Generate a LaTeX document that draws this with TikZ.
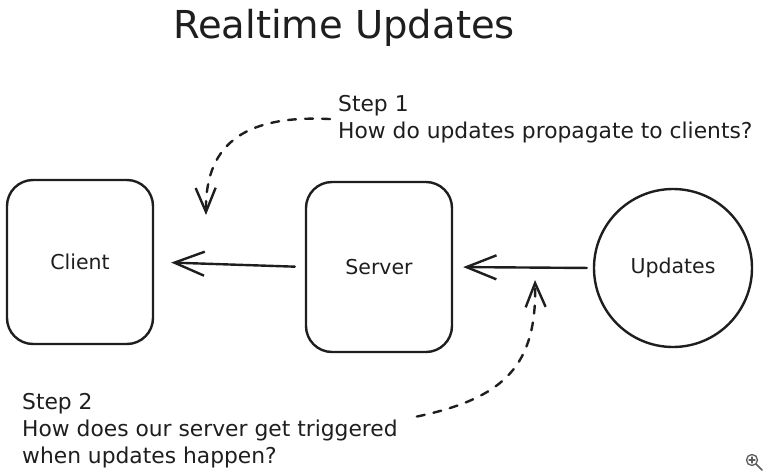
\documentclass[tikz,border=0pt]{standalone}
\usepackage{fontspec}
\setmainfont{DejaVu Sans}
\usetikzlibrary{arrows.meta}
\definecolor{ink}{HTML}{1E1E1E}
\definecolor{uigray}{HTML}{5C5C5C}
\begin{document}
\begin{tikzpicture}[x=1pt, y=-1pt, line cap=round, line join=round,
  stroke/.style={draw=ink, line width=2.4pt},
  box/.style={stroke, rounded corners=26pt, inner sep=0pt},
  label/.style={text=ink, font=\fontsize{20.5}{24}\selectfont},
  note/.style={text=ink, font=\fontsize{21.8}{27}\selectfont, align=left,
    inner sep=0pt, anchor=north west},
  flow/.style={stroke, -{Straight Barb[length=30pt, width=24pt]}},
  hint/.style={stroke, dash pattern=on 8pt off 9pt,
    -{Straight Barb[length=24pt, width=20pt]}}
]
\useasboundingbox (0,0) rectangle (769,474);

% title
\node[text=ink, font=\fontsize{38.5}{44}\selectfont] (title) at (344,28) {Realtime Updates};

% components
\node[box, label, minimum width=146pt, minimum height=164pt] (client) at (80,262) {Client};
\node[box, label, minimum width=146pt, minimum height=170pt] (server) at (379,267) {Server};
\node[stroke, circle, label, minimum size=158pt, inner sep=0pt] (updates) at (673,268) {Updates};

% data flow
\draw[flow, shorten <=10pt, shorten >=17pt] (server.west) -- (client.east);
\draw[flow, shorten <=6pt, shorten >=10pt] (updates.west) -- (server.east);

% annotations
\node[note] (step1) at (338,95) {Step 1\\How do updates propagate to clients?};
\node[note] (step2) at (22,393) {Step 2\\How does our server get triggered\\when updates happen?};

\coordinate (s1tip) at (206,215);
\coordinate (s2tip) at (535,280);
\draw[hint] ([xshift=-8pt]step1.west) .. controls (250,115) and (205,140) .. (s1tip);
\draw[hint] ([shift={(19pt,14pt)}]step2.east) .. controls (505,398) and (537,365) .. (s2tip);

% zoom control
\draw[uigray, line width=1.3pt] (752,460) circle (5.5pt);
\draw[uigray, line width=1.2pt] (749,460) -- (755,460) (752,457) -- (752,463);
\draw[uigray, line width=1.5pt] (756.2,464.2) -- (762,470);
\end{tikzpicture}
\end{document}
